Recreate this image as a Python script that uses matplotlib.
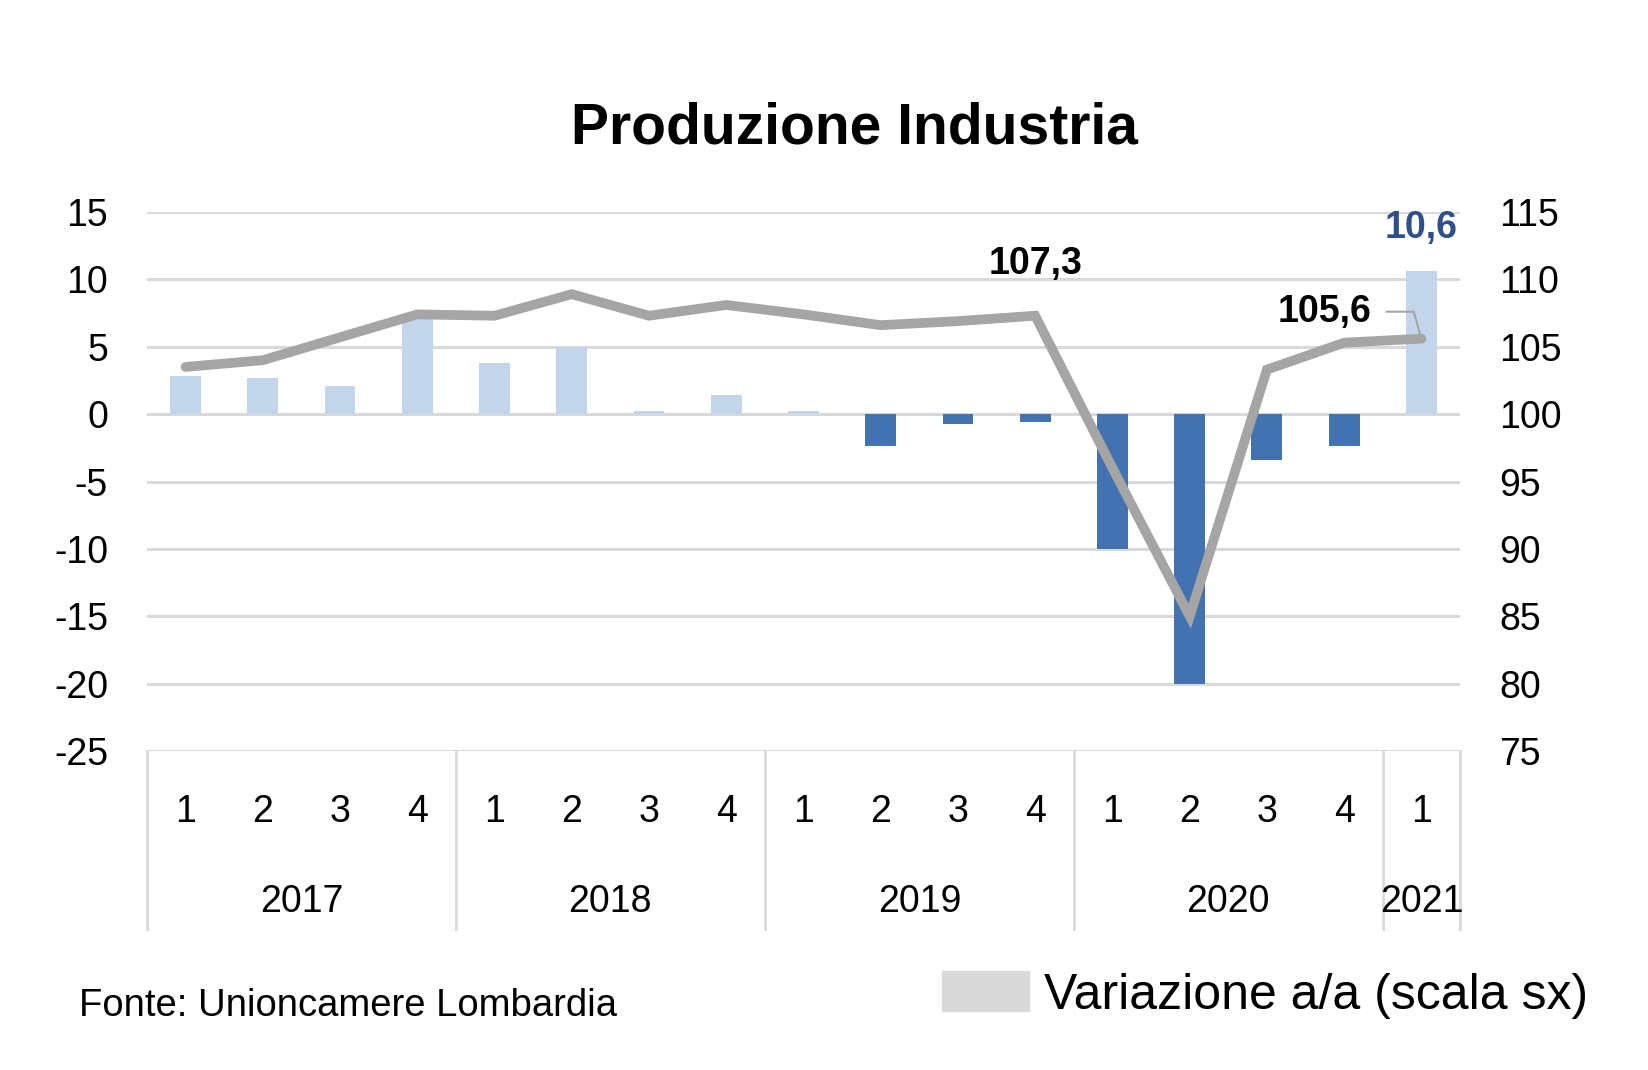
import matplotlib
matplotlib.use('Agg')
import matplotlib.pyplot as plt
import matplotlib.transforms as mtransforms
from matplotlib.patches import Patch

plt.rcParams['font.family'] = ['Liberation Sans', 'DejaVu Sans']

# Data
quarters = ['1', '2', '3', '4', '1', '2', '3', '4', '1', '2', '3', '4', '1', '2', '3', '4', '1']
years = ['2017', '2018', '2019', '2020', '2021']
year_span = [4, 4, 4, 4, 1]
var_aa = [2.8, 2.7, 2.1, 7.2, 3.8, 5.0, 0.2, 1.4, 0.2, -2.4, -0.7, -0.6, -10.0, -20.0, -3.4, -2.4, 10.6]
indice = [103.5, 104.0, 105.7, 107.4, 107.3, 108.9, 107.3, 108.1, 107.4, 106.6, 106.9, 107.3,
          96.0, 85.0, 103.3, 105.3, 105.6]

LIGHT = '#c3d5ea'
DARK = '#4372b0'
LINE = '#a5a5a5'
GRID = '#d9d9d9'

fig = plt.figure(figsize=(16.49, 10.70), dpi=100)
ax = fig.add_axes([0.0891, 0.2981, 0.7963, 0.5038])
ax2 = ax.twinx()

x = list(range(len(var_aa)))
colors = [LIGHT if v >= 0 else DARK for v in var_aa]
ax.bar(x, var_aa, width=0.4, color=colors, zorder=2)

ax.set_xlim(-0.5, len(x) - 0.5)
ax.set_ylim(-25, 15)
ax.set_yticks(range(-25, 16, 5))
ax.set_yticklabels([str(t) for t in range(-25, 16, 5)])
ax.yaxis.grid(True, color=GRID, linewidth=2.2, zorder=0)
ax.set_axisbelow(True)
ax.set_xticks([])
ax.tick_params(axis='y', length=0, pad=28, labelsize=27)

ax2.plot(x, indice, color=LINE, linewidth=7, solid_capstyle='round', solid_joinstyle='miter', zorder=3)
ax2.set_ylim(75, 115)
ax2.set_yticks(range(75, 116, 5))
ax2.tick_params(axis='y', length=0, pad=28, labelsize=27)

for a in (ax, ax2):
    for s in a.spines.values():
        s.set_visible(False)

# category axis (quarters / years)
trans = mtransforms.blended_transform_factory(ax.transData, ax.transAxes)
for xi, q in zip(x, quarters):
    ax.text(xi, -0.113, q, transform=trans, ha='center', va='center', fontsize=27)

start = 0
seps = [-0.5]
for yname, span in zip(years, year_span):
    center = start + (span - 1) / 2
    ax.text(center, -0.28, yname, transform=trans, ha='center', va='center', fontsize=27)
    start += span
    seps.append(start - 0.5)
for s in seps:
    ax.plot([s, s], [0, -0.33], transform=trans, color=GRID, linewidth=2, clip_on=False)

# data labels
ax.text(16, 10.6 + 1.9, '10,6', ha='center', va='bottom', fontsize=27, fontweight='bold', color='#2f4e8c')
ax2.text(11, indice[11] + 2.5, '107,3', ha='center', va='bottom', fontsize=27, fontweight='bold')
ax2.text(15.35, indice[16] + 2.0, '105,6', ha='right', va='center', fontsize=27, fontweight='bold')
ax2.plot([15.55, 15.85, 15.9, 16], [indice[16] + 2.0, indice[16] + 2.0, indice[16] + 2.0, indice[16]],
         color=LINE, linewidth=1.5, zorder=3)

# title
fig.text(0.518, 1 - 129 / 1070, 'Produzione Industria', ha='center', va='center',
         fontsize=41, fontweight='bold')

# source
fig.text(79 / 1649, 1 - 1006 / 1070, 'Fonte: Unioncamere Lombardia', ha='left', va='center', fontsize=27.5)

# legend
leg = fig.legend(handles=[Patch(color=GRID)], labels=['Variazione a/a (scala sx)'],
                 loc='center left', bbox_to_anchor=(897 / 1649, 1 - 995 / 1070),
                 frameon=False, fontsize=36, handlelength=1.75, handleheight=0.85, handletextpad=0.3)

fig.savefig('out.png', dpi=100)
